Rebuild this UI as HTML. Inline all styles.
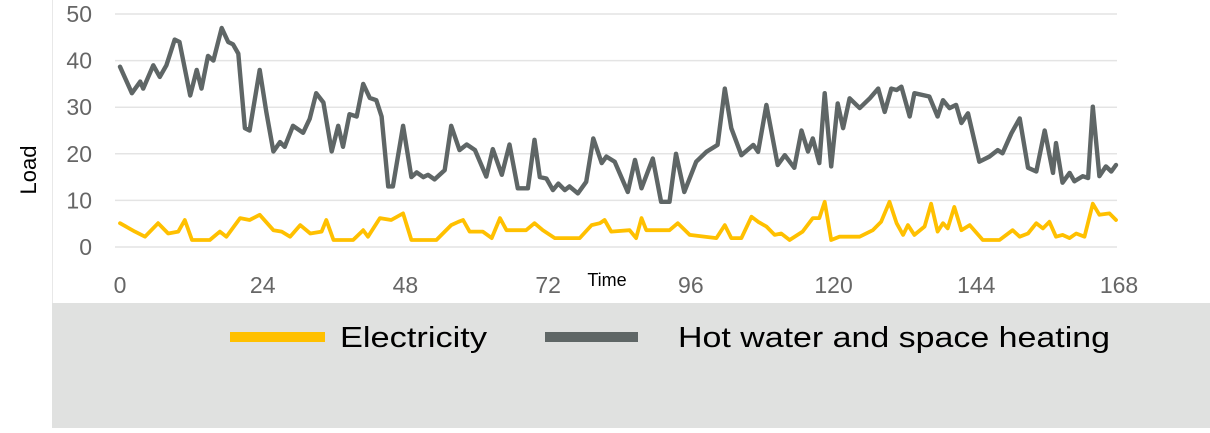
<!DOCTYPE html>
<html><head><meta charset="utf-8"><style>
body{margin:0;width:1210px;height:428px;overflow:hidden;background:#fff;font-family:"Liberation Sans",sans-serif}
</style></head><body>
<svg id="chart" width="1210" height="428" xmlns="http://www.w3.org/2000/svg">
<rect x="52" y="303" width="1158" height="125" fill="#e0e1e0"/>
<line x1="52.5" y1="0" x2="52.5" y2="303" stroke="#e8e8e8"/>
<g id="grid"></g><g id="ylabels"></g><g id="xlabels"></g><g id="series"></g>
<text transform="translate(36,170) rotate(-90)" text-anchor="middle" font-size="22" fill="#000">Load</text>
<text x="607" y="286" text-anchor="middle" font-size="18" fill="#000">Time</text>
<g>
<line x1="230" y1="337" x2="325" y2="337" stroke="#ffc000" stroke-width="10"/>
<text x="340" y="347" font-size="29" fill="#000" textLength="147" lengthAdjust="spacingAndGlyphs">Electricity</text></g>
<g>
<line x1="545" y1="337" x2="638" y2="337" stroke="#5f6666" stroke-width="10"/>
<text x="678" y="347" font-size="29" fill="#000" textLength="432" lengthAdjust="spacingAndGlyphs">Hot water and space heating</text></g>
</svg>
<script>
const yTicks=[0,10,20,30,40,50];
const xTicks=[0,24,48,72,96,120,144,168];
const heatHours=[0,2,3.4,3.9,5.6,6.7,7.8,9.2,10,11.8,12.9,13.7,14.8,15.7,17.1,18.2,19,19.9,21,21.8,23.5,24.6,25.8,26.9,27.7,29.1,30.8,31.9,33,34.2,35.6,36.7,37.5,38.6,39.8,40.9,42,43.1,44,45.1,45.9,47.6,49,49.9,51,51.8,52.9,54.6,55.7,57.1,58.3,59.7,61.6,62.7,64.2,65.5,66.9,68.6,69.7,70.6,71.7,72.8,73.7,74.8,75.6,77,78.4,79.6,81,81.8,83.2,85.4,86.6,87.7,89.6,91,92.4,93.5,94.9,96.9,98.6,100.5,101.7,102.8,104.5,106.5,107.3,108.7,110.6,111.8,113.4,114.6,115.7,116.5,117.6,118.5,119.6,120.7,121.6,122.7,124.4,126.1,127.5,128.6,129.7,130.6,131.4,132.8,133.6,136.1,137.5,138.4,139.5,140.6,141.5,142.6,144.5,146.2,147.6,148.4,149.9,151.3,152.7,154.1,155.5,156.9,157.4,158.5,159.7,160.5,161.9,162.8,163.6,164.7,165.8,166.7,167.5];
const heating=[38.7,33,35.5,34,39,36.5,39,44.5,44,32.5,38,34,41,40,47,44,43.5,41.5,25.5,25,38,29,20.5,22.5,21.5,26,24.5,27.5,33,31,20.5,26,21.5,28.5,28,35,32,31.5,28,13,13,26,15,16,15,15.5,14.5,16.5,26,20.8,22,20.8,15.1,21,15.5,22,12.6,12.6,23,15,14.7,12.2,13.6,12.2,13,11.5,14,23.3,18,19.4,18.3,11.8,18.7,12.6,19,9.7,9.7,20,11.8,18.3,20.4,21.9,34,25.5,19.7,21.9,20.4,30.5,17.6,19.7,17,25,20.5,23.3,18,33,17.3,30.8,25.5,31.9,29.8,31.9,34,29,34,33.7,34.4,28,33,32.3,28,31.5,29.8,30.5,26.6,28.7,18.3,19.4,20.8,20.1,24.4,27.6,17,16.2,25,15.9,22.3,13.8,15.9,14.1,15.2,14.8,30.1,15.2,17.3,16.2,17.6];
const elecHours=[0,2.5,4.2,6.4,8.1,9.8,10.9,12.1,15.1,16.8,17.9,20.2,21.8,23.5,25.8,27.2,28.6,30.3,32,33.9,34.7,35.9,39.2,40.9,41.7,43.7,45.6,47.6,49,53.2,55.7,56.9,57.7,58.8,61,62.5,63.9,65,68.3,69.7,71.1,73.1,77.3,79.3,80.7,81.5,82.6,85.7,86.8,87.7,88.5,92.4,93.8,95.8,100.3,101.7,102.8,104.5,106.2,107.3,108.7,110.1,111.2,112.6,114.8,116.5,117.6,118.5,119.6,121,124.4,126.6,128,129.4,130.6,131.7,132.5,133.6,135.3,136.4,137.5,138.4,139.2,140.3,141.5,142.9,145.1,147.9,150.1,151.3,152.7,154.1,155.2,156.3,157.4,158.5,159.7,160.8,162.2,163.6,164.7,166.4,167.5];
const electricity=[5.1,3.3,2.2,5.1,2.9,3.3,5.8,1.5,1.5,3.3,2.2,6.2,5.8,6.9,3.6,3.3,2.2,4.7,2.9,3.3,5.8,1.5,1.5,3.6,2.2,6.2,5.8,7.2,1.5,1.5,4.7,5.4,5.8,3.3,3.3,1.9,6.2,3.6,3.6,5.1,3.6,1.9,1.9,4.7,5.1,5.8,3.3,3.6,1.9,6.2,3.6,3.6,5.1,2.6,1.9,4.7,1.9,1.9,6.5,5.4,4.4,2.6,2.9,1.5,3.3,6.2,6.2,9.7,1.5,2.2,2.2,3.6,5.4,9.7,5.1,2.6,4.7,2.6,4.4,9.3,3.3,5.1,4,8.6,3.6,4.7,1.5,1.5,3.6,2.2,2.9,5.1,4,5.4,2.2,2.6,1.9,2.9,2.2,9.3,6.9,7.2,5.8];
const NS='http://www.w3.org/2000/svg';
const xS=h=>120+h*(999/168);
const yS=v=>247-v*4.66;
function mk(tag,attrs,parent){const e=document.createElementNS(NS,tag);for(const k in attrs)e.setAttribute(k,attrs[k]);parent.appendChild(e);return e;}
const grid=document.getElementById('grid'),yl=document.getElementById('ylabels'),xl=document.getElementById('xlabels'),ser=document.getElementById('series');
yTicks.forEach(v=>{
 const g=mk('line',{x1:115,x2:1117,y1:yS(v),y2:yS(v),stroke:'#e4e4e4','stroke-width':1.5},grid);
 
 
 const t=mk('text',{x:92,y:yS(v)+8,'text-anchor':'end','font-size':23,fill:'#666'},yl);
 t.textContent=v;
 
 
});
xTicks.forEach(h=>{
 const t=mk('text',{x:xS(h),y:293,'text-anchor':'middle','font-size':23,fill:'#666'},xl);
 t.textContent=h;
 
 
});
function line(hs,vs,color,w,name){
 const d=hs.map((h,i)=>(i?'L':'M')+xS(h).toFixed(1)+','+yS(vs[i]).toFixed(1)).join(' ');
 const p=mk('path',{d:d,fill:'none',stroke:color,'stroke-width':w,'stroke-linejoin':'round','stroke-linecap':'round'},ser);
 
 
}
line(heatHours,heating,'#5f6666',4.4,'heating-line');
line(elecHours,electricity,'#ffc000',3.8,'electricity-line');
</script>
</body></html>
